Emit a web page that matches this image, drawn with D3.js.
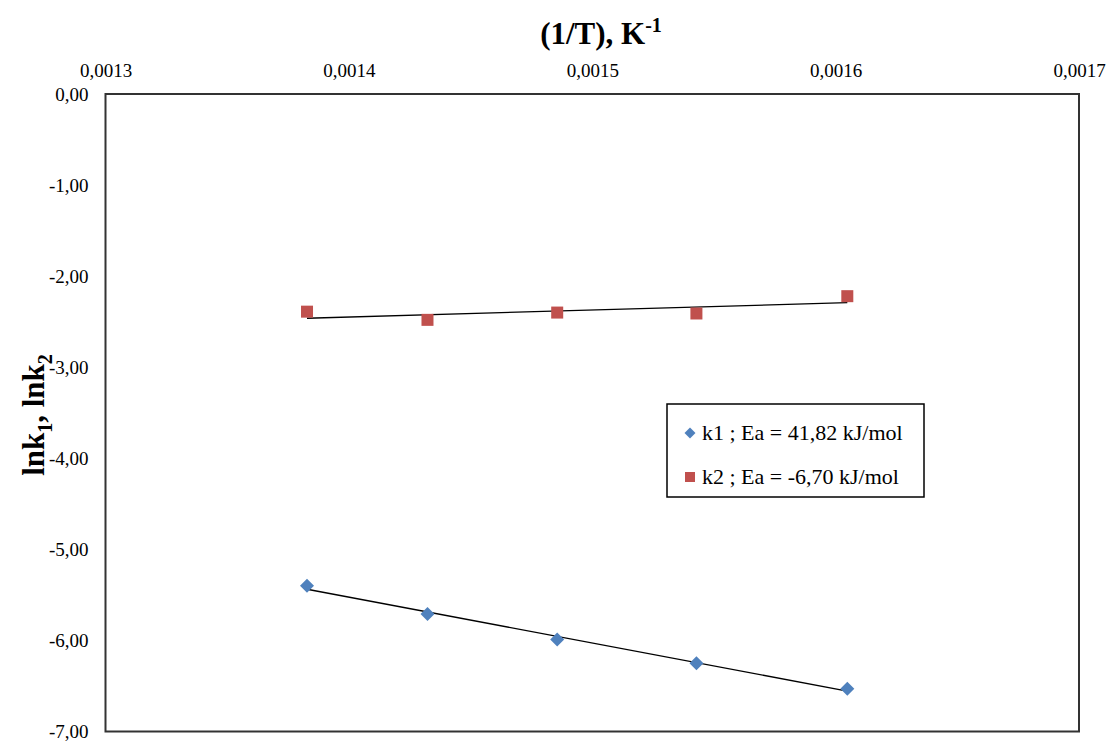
<!DOCTYPE html>
<html><head><meta charset="utf-8">
<script src="https://cdn.jsdelivr.net/npm/d3@7"></script>
<style>
html,body{margin:0;padding:0;background:#fff;}
svg{display:block;}
svg text{font-family:"Liberation Serif","Times New Roman",serif;}
</style></head>
<body>
<script>
const invT = [0.0013828, 0.0014323, 0.0014856, 0.0015428, 0.0016048];
const lnk1 = [-5.40, -5.71, -5.99, -6.25, -6.53];
const lnk2 = [-2.39, -2.48, -2.40, -2.41, -2.22];
const xTicks = [0.0013, 0.0014, 0.0015, 0.0016, 0.0017];
const yTicks = [0, -1, -2, -3, -4, -5, -6, -7];
const seriesNames = ["k1 ; Ea = 41,82 kJ/mol", "k2 ; Ea = -6,70 kJ/mol"];
const colors = ["#4F81BD", "#C0504D"];

const W = 1113, H = 743;
const m = {left: 105.5, right: W - 1079, top: 94, bottom: H - 731.5};
const svg = d3.select("body").append("svg").attr("width", W).attr("height", H);

const x = d3.scaleLinear().domain([0.0013, 0.0017]).range([m.left, W - m.right]);
const y = d3.scaleLinear().domain([0, -7]).range([m.top, H - m.bottom]);
const fmtX = v => v.toFixed(4).replace(".", ",");
const fmtY = v => v.toFixed(2).replace(".", ",");

// plot frame
svg.append("rect").attr("x", x(0.0013)).attr("y", y(0))
  .attr("width", x(0.0017) - x(0.0013)).attr("height", y(-7) - y(0))
  .attr("fill", "none").attr("stroke", "#333").attr("stroke-width", 2);

// axes (labels only)
const xAxis = svg.append("g").attr("transform", `translate(0,${m.top})`)
  .call(d3.axisTop(x).tickValues(xTicks).tickFormat(fmtX).tickSize(0).tickPadding(17));
xAxis.attr("font-family", null).attr("font-size", 19);
xAxis.select(".domain").remove();
xAxis.selectAll("text").attr("fill", "#000");

const yAxis = svg.append("g").attr("transform", `translate(${m.left},0)`)
  .call(d3.axisLeft(y).tickValues(yTicks).tickFormat(fmtY).tickSize(0).tickPadding(17));
yAxis.attr("font-family", null).attr("font-size", 19);
yAxis.select(".domain").remove();
yAxis.selectAll("text").attr("fill", "#000");

// titles
const t = svg.append("text").attr("x", 601).attr("y", 44).attr("text-anchor", "middle")
  .attr("font-weight", "bold").attr("font-size", 31);
t.append("tspan").text("(1/T), K");
t.append("tspan").text("-1").attr("font-size", 20).attr("dy", -12);

const yl = svg.append("text").attr("transform", "translate(44,415) rotate(-90)")
  .attr("text-anchor", "middle").attr("font-weight", "bold").attr("font-size", 31);
yl.append("tspan").text("lnk");
yl.append("tspan").text("1").attr("font-size", 20).attr("dy", 8);
yl.append("tspan").text(", lnk").attr("dy", -8);
yl.append("tspan").text("2").attr("font-size", 20).attr("dy", 8);

// linear regression trendlines
function fit(xs, ys) {
  const mx = d3.mean(xs), my = d3.mean(ys);
  const b = d3.sum(xs, (v, i) => (v - mx) * (ys[i] - my)) / d3.sum(xs, v => (v - mx) ** 2);
  return v => my + b * (v - mx);
}
const line = d3.line().x(d => x(d[0])).y(d => y(d[1]));
[lnk1, lnk2].forEach(ys => {
  const f = fit(invT, ys);
  const ext = d3.extent(invT);
  svg.append("path").attr("d", line(ext.map(v => [v, f(v)])))
    .attr("fill", "none").attr("stroke", "#000").attr("stroke-width", 1.3);
});

// markers
svg.append("g").selectAll("path").data(invT.map((v, i) => [v, lnk1[i]])).join("path")
  .attr("d", d3.symbol().type(d3.symbolSquare).size(98)())
  .attr("transform", d => `translate(${x(d[0])},${y(d[1])}) rotate(45)`)
  .attr("fill", colors[0]);
svg.append("g").selectAll("rect").data(invT.map((v, i) => [v, lnk2[i]])).join("rect")
  .attr("x", d => x(d[0]) - 6).attr("y", d => y(d[1]) - 6)
  .attr("width", 12).attr("height", 12).attr("fill", colors[1]);

// legend
const lg = svg.append("g");
lg.append("rect").attr("x", 667).attr("y", 404).attr("width", 257).attr("height", 93)
  .attr("fill", "#fff").attr("stroke", "#000").attr("stroke-width", 1.5);
seriesNames.forEach((name, i) => {
  const cy = 433 + i * 44;
  if (i === 0) {
    lg.append("path").attr("d", d3.symbol().type(d3.symbolSquare).size(60)())
      .attr("transform", `translate(690,${cy}) rotate(45)`).attr("fill", colors[0]);
  } else {
    lg.append("rect").attr("x", 685).attr("y", cy - 5).attr("width", 10).attr("height", 10).attr("fill", colors[1]);
  }
  lg.append("text").attr("x", 702).attr("y", cy + 7).attr("font-size", 22).text(name);
});
</script>
</body></html>
